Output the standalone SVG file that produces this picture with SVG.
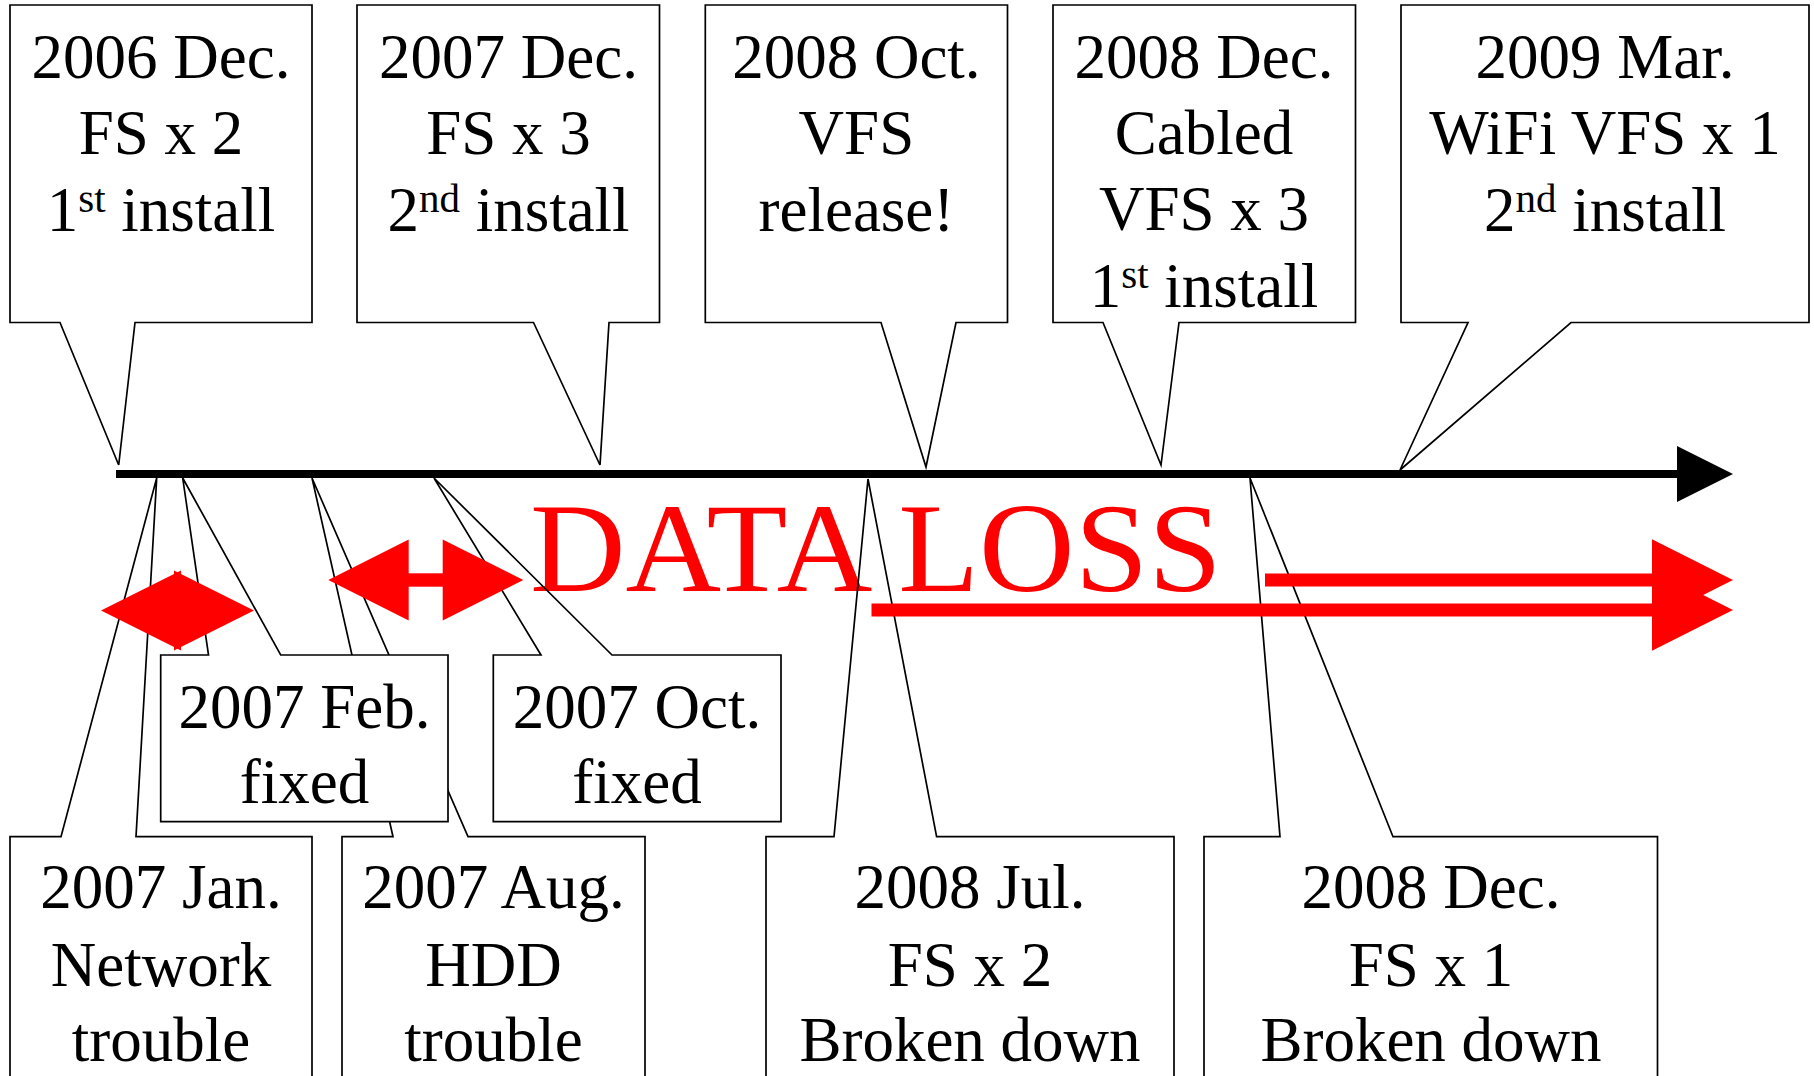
<svg xmlns="http://www.w3.org/2000/svg" width="1814" height="1076" viewBox="0 0 1814 1076">
<style>
.bg{fill:#fff;stroke:none}
.co{fill:none;stroke:#000;stroke-width:1.7;stroke-linejoin:miter}
.t{font-family:"Liberation Serif","Times New Roman",serif;font-size:63px;fill:#000;text-anchor:middle}
.sup{font-size:41px}
.red{fill:#ff0000}
.dl{font-family:"Liberation Serif","Times New Roman",serif;font-size:128px;fill:#ff0000}
</style>
<rect width="1814" height="1076" fill="#fff"/>

<g id="timeline">
<rect x="116" y="470" width="1562" height="8" fill="#000"/>
<polygon points="1677,446 1733,474 1677,502" fill="#000"/>
</g>

<text id="data-loss" class="dl" x="530" y="591" textLength="692" lengthAdjust="spacingAndGlyphs">DATA LOSS</text>

<g id="n-2006dec">
<rect class="bg" x="10" y="5" width="302" height="317.5"/>
<path class="co" d="M10,5 H312 V322.5 H135 L118.7,465 L60,322.5 H10 Z"/>
<text class="t" x="161"><tspan x="161" y="77.5">2006 Dec.</tspan><tspan x="161" y="154">FS x 2</tspan><tspan x="161" y="230.5">1<tspan class="sup" dy="-19">st</tspan><tspan dy="19"> install</tspan></tspan></text>
</g>

<g id="n-2007dec">
<rect class="bg" x="357" y="5" width="302.5" height="317.5"/>
<path class="co" d="M357,5 H659.5 V322.5 H609 L600,465 L533.5,322.5 H357 Z"/>
<text class="t"><tspan x="508.5" y="77.5">2007 Dec.</tspan><tspan x="508.5" y="154">FS x 3</tspan><tspan x="508.5" y="230.5">2<tspan class="sup" dy="-19">nd</tspan><tspan dy="19"> install</tspan></tspan></text>
</g>

<g id="n-2008oct">
<rect class="bg" x="705.3" y="5" width="302.2" height="317.5"/>
<path class="co" d="M705.3,5 H1007.5 V322.5 H956 L926,467 L881,322.5 H705.3 Z"/>
<text class="t"><tspan x="856.4" y="77.5">2008 Oct.</tspan><tspan x="856.4" y="154">VFS</tspan><tspan x="856.4" y="230.5">release!</tspan></text>
</g>

<g id="n-2008dec-cabled">
<rect class="bg" x="1053" y="5" width="302.5" height="317.5"/>
<path class="co" d="M1053,5 H1355.5 V322.5 H1179 L1161,465 L1103,322.5 H1053 Z"/>
<text class="t"><tspan x="1204" y="77.5">2008 Dec.</tspan><tspan x="1204" y="153.5">Cabled</tspan><tspan x="1204" y="230">VFS x 3</tspan><tspan x="1204" y="306.5">1<tspan class="sup" dy="-19">st</tspan><tspan dy="19"> install</tspan></tspan></text>
</g>

<g id="n-2009mar">
<rect class="bg" x="1401" y="5" width="408" height="317.5"/>
<path class="co" d="M1401,5 H1809 V322.5 H1571 L1400,470 L1468,322.5 H1401 Z"/>
<text class="t"><tspan x="1605" y="77.5">2009 Mar.</tspan><tspan x="1605" y="154">WiFi VFS x 1</tspan><tspan x="1605" y="230.5">2<tspan class="sup" dy="-19">nd</tspan><tspan dy="19"> install</tspan></tspan></text>
</g>

<g id="n-2007jan">
<rect class="bg" x="10" y="836.7" width="302" height="260"/>
<path class="co" d="M10,1096 V836.7 H61 L156.7,478 L136,836.7 H312 V1096"/>
<text class="t"><tspan x="161" y="908">2007 Jan.</tspan><tspan x="161" y="985.5">Network</tspan><tspan x="161" y="1061">trouble</tspan></text>
</g>

<g id="n-2007aug">
<rect class="bg" x="342" y="836.7" width="303" height="260"/>
<path class="co" d="M342,1096 V836.7 H393 L312,478 L468,836.7 H645 V1096"/>
<text class="t"><tspan x="493.5" y="908">2007 Aug.</tspan><tspan x="493.5" y="985.5">HDD</tspan><tspan x="493.5" y="1061">trouble</tspan></text>
</g>

<g id="n-2007feb">
<rect class="bg" x="160.7" y="655" width="287.3" height="166.7"/>
<path class="co" d="M160.7,655 H208.5 L182.7,478 L280.7,655 H448 V821.7 H160.7 Z"/>
<text class="t"><tspan x="304.5" y="728">2007 Feb.</tspan><tspan x="304.5" y="803">fixed</tspan></text>
</g>

<g id="n-2007oct">
<rect class="bg" x="493.3" y="655" width="287.7" height="166.7"/>
<path class="co" d="M493.3,655 H541 L434,478 L612,655 H781 V821.7 H493.3 Z"/>
<text class="t"><tspan x="637" y="728">2007 Oct.</tspan><tspan x="637" y="803">fixed</tspan></text>
</g>

<g id="n-2008jul">
<rect class="bg" x="766" y="836.7" width="408" height="260"/>
<path class="co" d="M766,1096 V836.7 H834 L868,479 L936.6,836.7 H1174 V1096"/>
<text class="t"><tspan x="970" y="908">2008 Jul.</tspan><tspan x="970" y="985.5">FS x 2</tspan><tspan x="970" y="1061">Broken down</tspan></text>
</g>

<g id="n-2008dec-fs">
<rect class="bg" x="1204" y="836.7" width="453.5" height="260"/>
<path class="co" d="M1204,1096 V836.7 H1280 L1250,478 L1393,836.7 H1657.5 V1096"/>
<text class="t"><tspan x="1431" y="908">2008 Dec.</tspan><tspan x="1431" y="985.5">FS x 1</tspan><tspan x="1431" y="1061">Broken down</tspan></text>
</g>

<g id="connectors">
<g id="arrow-short" class="red">
<polygon points="101,610.5 181,570.5 181,650.5"/>
<polygon points="254,610.5 174,570.5 174,650.5"/>
</g>
<g id="arrow-double" class="red">
<polygon points="328.3,580 408.7,539.5 408.7,620.5"/>
<rect x="408" y="573.3" width="35.4" height="13.4"/>
<polygon points="523.3,580 442.7,539.5 442.7,620.5"/>
</g>
<g id="arrow-loss-upper" class="red">
<rect x="1265" y="573.5" width="388" height="13"/>
<polygon points="1652,539.3 1733,580 1652,620.7"/>
</g>
<g id="arrow-loss-lower" class="red">
<rect x="871.5" y="603.5" width="781.5" height="13"/>
<polygon points="1652,569.3 1733,610 1652,650.7"/>
</g>
</g>
</svg>
